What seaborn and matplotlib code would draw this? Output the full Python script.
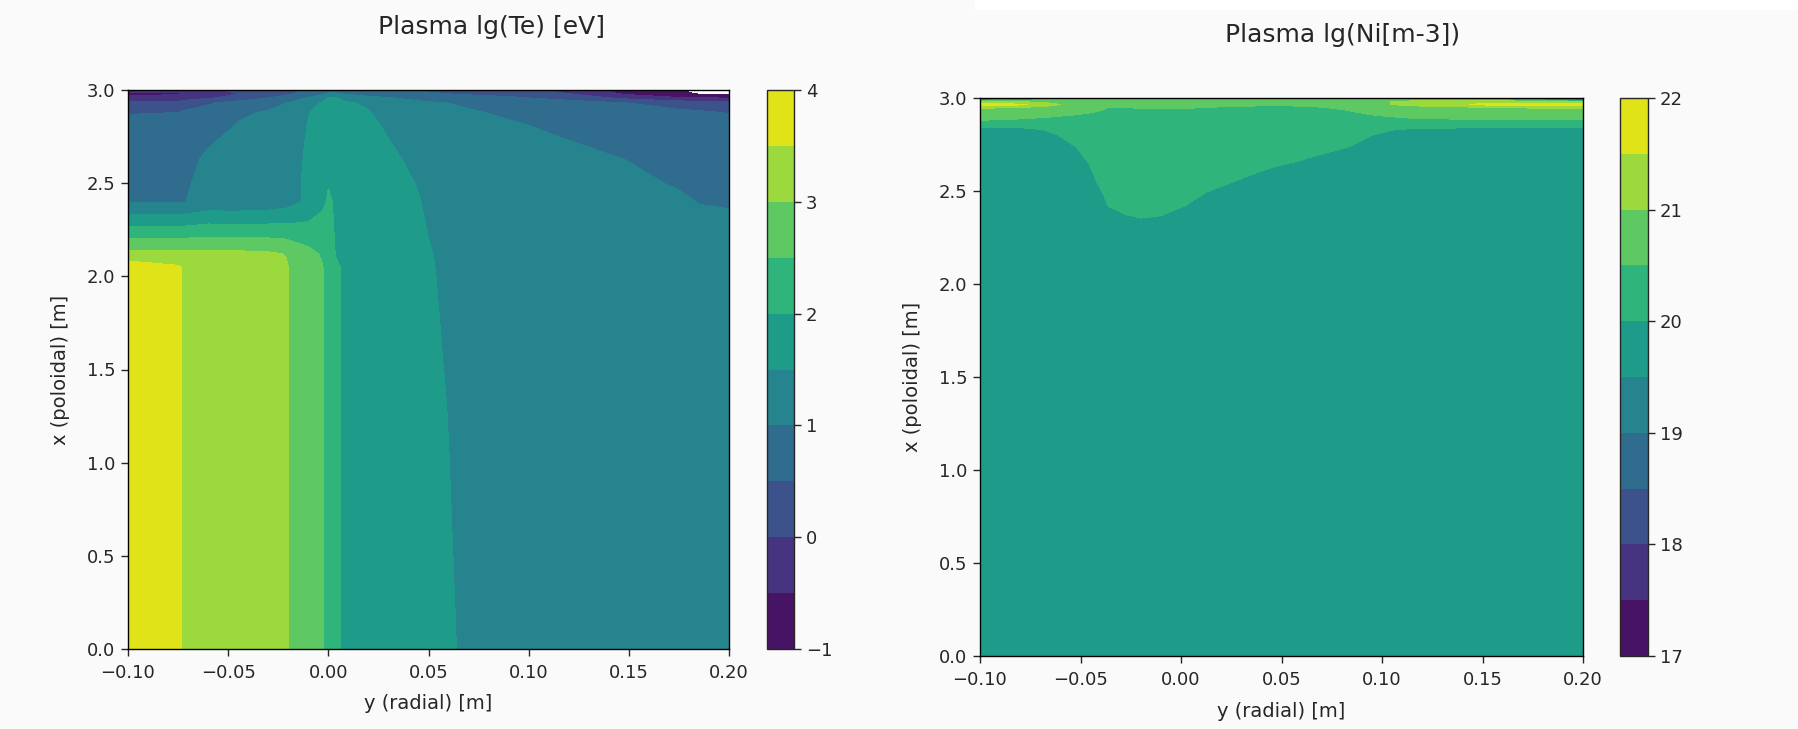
import numpy as np
import matplotlib
matplotlib.use("Agg")
import matplotlib.pyplot as plt
import seaborn as sns
from matplotlib.patches import Rectangle

# ---------------- data ----------------
# Left panel: lg(Te) [eV] on a (poloidal x, radial y) grid
te_y_radial = [-0.100, -0.0745, -0.0725, -0.060, -0.045, -0.030, -0.021, -0.019,
               -0.010, -0.003, 0.000, 0.004, 0.008, 0.020, 0.035, 0.050, 0.060,
               0.066, 0.090, 0.120, 0.150, 0.175, 0.185, 0.200]
te_x_poloidal = [0.0, 1.3, 2.05, 2.12, 2.40, 2.50, 2.63, 2.72, 2.81, 2.88,
                 2.93, 2.96, 2.98, 3.0]
te_values = [
    [3.8, 3.55, 3.45, 3.3, 3.25, 3.2, 3.05, 2.95, 2.75, 2.52, 2.35, 2.1, 1.9, 1.8, 1.7, 1.62, 1.56, 1.47, 1.35, 1.3, 1.25, 1.2, 1.2, 1.2],
    [3.8, 3.55, 3.45, 3.3, 3.25, 3.2, 3.05, 2.95, 2.75, 2.52, 2.35, 2.1, 1.9, 1.8, 1.7, 1.6, 1.49, 1.45, 1.35, 1.3, 1.25, 1.2, 1.2, 1.2],
    [3.8, 3.55, 3.45, 3.3, 3.25, 3.2, 3.05, 2.95, 2.75, 2.52, 2.35, 2.1, 1.9, 1.8, 1.68, 1.53, 1.44, 1.4, 1.33, 1.3, 1.25, 1.2, 1.2, 1.2],
    [3.15, 3.15, 3.15, 3.15, 3.12, 3.08, 2.98, 2.9, 2.65, 2.45, 2.3, 1.95, 1.88, 1.78, 1.67, 1.52, 1.43, 1.4, 1.33, 1.3, 1.25, 1.2, 1.2, 1.2],
    [0.95, 0.95, 0.98, 1.15, 1.15, 1.2, 1.3, 1.35, 1.6, 1.9, 2.05, 1.95, 1.85, 1.78, 1.65, 1.45, 1.35, 1.33, 1.25, 1.2, 1.12, 1.05, 0.99, 0.97],
    [0.85, 0.86, 0.95, 1.1, 1.2, 1.25, 1.3, 1.35, 1.6, 1.85, 1.98, 1.92, 1.85, 1.78, 1.62, 1.4, 1.32, 1.3, 1.22, 1.15, 1.07, 0.97, 0.92, 0.9],
    [0.75, 0.78, 0.9, 1.05, 1.15, 1.22, 1.28, 1.33, 1.57, 1.75, 1.85, 1.85, 1.82, 1.72, 1.52, 1.35, 1.28, 1.25, 1.17, 1.1, 0.99, 0.9, 0.87, 0.85],
    [0.68, 0.7, 0.8, 0.97, 1.1, 1.18, 1.25, 1.3, 1.55, 1.7, 1.8, 1.8, 1.75, 1.65, 1.45, 1.3, 1.22, 1.2, 1.12, 1.01, 0.9, 0.82, 0.8, 0.78],
    [0.6, 0.62, 0.7, 0.85, 1.02, 1.12, 1.2, 1.25, 1.52, 1.65, 1.72, 1.72, 1.68, 1.58, 1.38, 1.22, 1.15, 1.12, 1.04, 0.92, 0.8, 0.72, 0.7, 0.68],
    [0.48, 0.5, 0.55, 0.7, 0.95, 1.03, 1.12, 1.18, 1.48, 1.62, 1.66, 1.66, 1.62, 1.52, 1.3, 1.15, 1.08, 1.05, 0.95, 0.82, 0.7, 0.6, 0.55, 0.48],
    [0.15, 0.2, 0.25, 0.45, 0.7, 0.88, 1.0, 1.05, 1.35, 1.55, 1.6, 1.6, 1.55, 1.45, 1.2, 1.05, 1.0, 0.97, 0.85, 0.7, 0.5, 0.3, 0.28, 0.25],
    [-0.4, -0.35, -0.3, -0.1, 0.2, 0.45, 0.7, 0.75, 1.0, 1.3, 1.52, 1.5, 1.35, 1.1, 0.95, 0.85, 0.75, 0.7, 0.55, 0.3, -0.2, -0.5, -0.55, -0.6],
    [-0.6, -0.55, -0.5, -0.3, 0.0, 0.2, 0.4, 0.45, 0.7, 0.9, 1.05, 1.05, 0.95, 0.8, 0.7, 0.6, 0.5, 0.45, 0.35, 0.0, -0.6, -0.85, -1.05, -1.1],
    [-0.3, -0.3, -0.25, -0.1, 0.1, 0.25, 0.35, 0.4, 0.55, 0.7, 0.8, 0.8, 0.75, 0.6, 0.45, 0.4, 0.35, 0.3, 0.2, -0.2, -0.7, -0.95, -1.2, -1.3],
]
te_levels = [-1.0, -0.5, 0.0, 0.5, 1.0, 1.5, 2.0, 2.5, 3.0, 3.5, 4.0]
te_cbar_ticks = [-1, 0, 1, 2, 3, 4]

# Right panel: lg(Ni [m-3])
ni_y_radial = [-0.100, -0.080, -0.068, -0.060, -0.052, -0.046, -0.042, -0.036,
               -0.028, -0.020, -0.010, 0.000, 0.012, 0.030, 0.047, 0.065, 0.082,
               0.094, 0.104, 0.116, 0.150, 0.185, 0.200]
ni_x_poloidal = [0.0, 2.30, 2.36, 2.42, 2.50, 2.58, 2.66, 2.74, 2.80, 2.83, 2.85,
                 2.88, 2.91, 2.935, 2.95, 2.965, 2.98, 2.99, 3.0]
ni_values = [
    [19.8] * 23,
    [19.8] * 23,
    [19.8] * 8 + [19.95, 20.02, 19.98] + [19.8] * 12,
    [19.8] * 7 + [20.01, 20.15, 20.2, 20.15, 20.03, 19.85] + [19.8] * 10,
    [19.8] * 6 + [19.92, 20.1, 20.2, 20.2, 20.2, 20.15, 20.02, 19.85] + [19.8] * 9,
    [19.8] * 5 + [19.85, 20.05, 20.15, 20.2, 20.2, 20.2, 20.2, 20.2, 20.03, 19.85] + [19.8] * 8,
    [19.8] * 4 + [19.85, 20.02, 20.1, 20.15, 20.2, 20.2, 20.2, 20.2, 20.2, 20.15, 20.08, 19.95] + [19.8] * 7,
    [19.8] * 3 + [19.85, 20.01, 20.08, 20.12, 20.15] + [20.2] * 7 + [20.12, 20.02, 19.9] + [19.85] * 5,
    [19.85, 19.85, 19.85, 20.02, 20.1] + [20.2] * 11 + [20.1, 20.01, 19.9] + [19.88] * 4,
    [19.88, 19.88, 20.01, 20.1] + [20.2] * 14 + [20.02, 19.95, 19.9, 19.9, 19.9],
    [20.1, 20.1] + [20.2] * 17 + [20.1] * 4,
    [20.5, 20.45, 20.4, 20.35, 20.3, 20.25, 20.25, 20.25, 20.25, 20.25, 20.25, 20.25, 20.25, 20.25, 20.25, 20.25, 20.3, 20.35, 20.4, 20.45, 20.48, 20.48, 20.48],
    [20.7, 20.65, 20.6, 20.55, 20.5, 20.45, 20.4, 20.35, 20.3, 20.3, 20.3, 20.3, 20.3, 20.3, 20.35, 20.4, 20.45, 20.5, 20.55, 20.6, 20.62, 20.62, 20.62],
    [20.85, 20.8, 20.75, 20.7, 20.65, 20.6, 20.55, 20.45, 20.4, 20.4, 20.42, 20.45, 20.4, 20.38, 20.35, 20.4, 20.5, 20.6, 20.7, 20.75, 20.8, 20.85, 20.85],
    [21.1, 21.0, 20.9, 20.8, 20.75, 20.7, 20.65, 20.5, 20.52, 20.55, 20.55, 20.58, 20.5, 20.45, 20.4, 20.45, 20.6, 20.7, 20.85, 20.9, 21.0, 21.1, 21.1],
    [21.7, 21.6, 21.3, 21.0, 20.9, 20.85, 20.8, 20.7, 20.7, 20.7, 20.7, 20.7, 20.65, 20.6, 20.55, 20.65, 20.8, 20.9, 21.0, 21.1, 21.6, 21.8, 21.8],
    [21.0, 21.0, 20.9, 20.8] + [20.75] * 12 + [20.85, 20.9, 21.0, 21.1, 21.3, 21.2, 21.0],
    [19.8, 20.3, 20.6, 20.7] + [20.7] * 12 + [20.75, 20.8, 20.85, 20.9, 20.8, 19.8, 19.2],
    [18.6, 19.5, 20.2, 20.5] + [20.6] * 12 + [20.6, 20.6, 20.6, 20.5, 19.8, 18.2, 17.8],
]
ni_levels = [17.0, 17.5, 18.0, 18.5, 19.0, 19.5, 20.0, 20.5, 21.0, 21.5, 22.0]
ni_cbar_ticks = [17, 18, 19, 20, 21, 22]

x_ticks = [-0.10, -0.05, 0.00, 0.05, 0.10, 0.15, 0.20]
y_ticks = [0.0, 0.5, 1.0, 1.5, 2.0, 2.5, 3.0]

titles = ["Plasma lg(Te) [eV]", "Plasma lg(Ni[m-3])"]
xlabel = "y (radial) [m]"
ylabel = "x (poloidal) [m]"

# ---------------- figure ----------------
sns.set_style("ticks")
plt.rcParams["font.family"] = ["DejaVu Sans"]
cmap = sns.color_palette("viridis", as_cmap=True)

W, H = 1798, 729
fig = plt.figure(figsize=(W / 100, H / 100), dpi=100, facecolor="#fafafa")
fig.patches.append(Rectangle((975 / W, 1 - 9 / H), 1 - 975 / W, 9 / H,
                             transform=fig.transFigure, color="white", zorder=0))


def px_axes(x0, y0, x1, y1):
    return fig.add_axes([x0 / W, 1 - y1 / H, (x1 - x0) / W, (y1 - y0) / H])


panels = [
    dict(ax=(128, 90, 729, 649), cax=(767, 90, 794, 649),
         x=te_y_radial, y=te_x_poloidal, z=te_values, levels=te_levels,
         ticks=te_cbar_ticks, title=titles[0], tpos=(491, 27), xpad=9),
    dict(ax=(980, 98, 1583, 656), cax=(1620, 98, 1648, 656),
         x=ni_y_radial, y=ni_x_poloidal, z=ni_values, levels=ni_levels,
         ticks=ni_cbar_ticks, title=titles[1], tpos=(1343, 35), xpad=10),
]

for p in panels:
    ax = px_axes(*p["ax"])
    cax = px_axes(*p["cax"])
    Xg, Yg = np.meshgrid(np.array(p["x"]), np.array(p["y"]))
    cs = ax.contourf(Xg, Yg, np.array(p["z"]), levels=p["levels"], cmap=cmap)
    ax.set_xlim(-0.10, 0.20)
    ax.set_ylim(0.0, 3.0)
    ax.set_xticks(x_ticks)
    ax.set_xticklabels([f"{v:.2f}".replace("-", "\u2212") for v in x_ticks])
    ax.set_yticks(y_ticks)
    ax.set_yticklabels([f"{v:.1f}" for v in y_ticks])
    ax.tick_params(labelsize=13, length=5, width=1, direction="out", pad=4)
    ax.tick_params(axis="x", pad=5.5)
    ax.set_xlabel(xlabel, fontsize=14, labelpad=p["xpad"])
    ax.set_ylabel(ylabel, fontsize=14, labelpad=12)
    for s in ax.spines.values():
        s.set_linewidth(1.0)
        s.set_color("black")
    cb = fig.colorbar(cs, cax=cax, ticks=p["ticks"])
    cb.ax.set_yticklabels([str(t).replace("-", "\u2212") for t in p["ticks"]])
    cb.ax.tick_params(labelsize=13, length=5, width=1)
    cb.outline.set_linewidth(1.0)
    fig.text(p["tpos"][0] / W, 1 - p["tpos"][1] / H, p["title"],
             ha="center", va="center", fontsize=18)

fig.savefig("out.png", dpi=100, facecolor=fig.get_facecolor())
